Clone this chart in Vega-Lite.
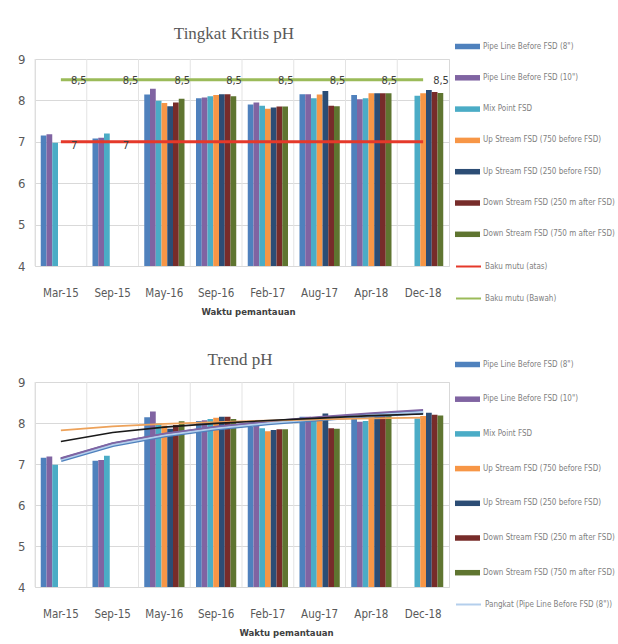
{
  "$schema": "https://vega.github.io/schema/vega-lite/v6.json",
  "background": "white",
  "padding": {"left": 17, "top": 24, "right": 0, "bottom": 0},
  "config": {
    "view": {"stroke": "#d9d9d9"},
    "axis": {"domain": false, "ticks": false, "labelFont": "DejaVu Sans Condensed, Liberation Sans", "labelColor": "#595959", "titleFont": "DejaVu Sans Condensed, Liberation Sans", "titleColor": "#404040", "gridColor": "#d9d9d9"},
    "concat": {"spacing": 33}
  },
  "datasets": {
    "dates": [{"d": "Mar-15"}, {"d": "Sep-15"}, {"d": "May-16"}, {"d": "Sep-16"}, {"d": "Feb-17"}, {"d": "Aug-17"}, {"d": "Apr-18"}, {"d": "Dec-18"}],
    "bars": [
      {"d": "Mar-15", "s": "Pipe Line Before FSD (8\")", "v": 7.15},
      {"d": "Mar-15", "s": "Pipe Line Before FSD (10\")", "v": 7.18},
      {"d": "Mar-15", "s": "Mix Point FSD", "v": 6.98},
      {"d": "Sep-15", "s": "Pipe Line Before FSD (8\")", "v": 7.08},
      {"d": "Sep-15", "s": "Pipe Line Before FSD (10\")", "v": 7.1},
      {"d": "Sep-15", "s": "Mix Point FSD", "v": 7.2},
      {"d": "May-16", "s": "Pipe Line Before FSD (8\")", "v": 8.14},
      {"d": "May-16", "s": "Pipe Line Before FSD (10\")", "v": 8.28},
      {"d": "May-16", "s": "Mix Point FSD", "v": 7.99},
      {"d": "May-16", "s": "Up Stream FSD (750 before FSD)", "v": 7.94},
      {"d": "May-16", "s": "Up Stream FSD (250 before FSD)", "v": 7.86},
      {"d": "May-16", "s": "Down Stream FSD (250 m after FSD)", "v": 7.95},
      {"d": "May-16", "s": "Down Stream FSD (750 m after FSD)", "v": 8.04},
      {"d": "Sep-16", "s": "Pipe Line Before FSD (8\")", "v": 8.05},
      {"d": "Sep-16", "s": "Pipe Line Before FSD (10\")", "v": 8.07},
      {"d": "Sep-16", "s": "Mix Point FSD", "v": 8.1},
      {"d": "Sep-16", "s": "Up Stream FSD (750 before FSD)", "v": 8.13},
      {"d": "Sep-16", "s": "Up Stream FSD (250 before FSD)", "v": 8.15},
      {"d": "Sep-16", "s": "Down Stream FSD (250 m after FSD)", "v": 8.15},
      {"d": "Sep-16", "s": "Down Stream FSD (750 m after FSD)", "v": 8.1},
      {"d": "Feb-17", "s": "Pipe Line Before FSD (8\")", "v": 7.9},
      {"d": "Feb-17", "s": "Pipe Line Before FSD (10\")", "v": 7.95},
      {"d": "Feb-17", "s": "Mix Point FSD", "v": 7.87},
      {"d": "Feb-17", "s": "Up Stream FSD (750 before FSD)", "v": 7.8},
      {"d": "Feb-17", "s": "Up Stream FSD (250 before FSD)", "v": 7.83},
      {"d": "Feb-17", "s": "Down Stream FSD (250 m after FSD)", "v": 7.85},
      {"d": "Feb-17", "s": "Down Stream FSD (750 m after FSD)", "v": 7.85},
      {"d": "Aug-17", "s": "Pipe Line Before FSD (8\")", "v": 8.15},
      {"d": "Aug-17", "s": "Pipe Line Before FSD (10\")", "v": 8.15},
      {"d": "Aug-17", "s": "Mix Point FSD", "v": 8.05},
      {"d": "Aug-17", "s": "Up Stream FSD (750 before FSD)", "v": 8.14},
      {"d": "Aug-17", "s": "Up Stream FSD (250 before FSD)", "v": 8.23},
      {"d": "Aug-17", "s": "Down Stream FSD (250 m after FSD)", "v": 7.87},
      {"d": "Aug-17", "s": "Down Stream FSD (750 m after FSD)", "v": 7.86},
      {"d": "Apr-18", "s": "Pipe Line Before FSD (8\")", "v": 8.13},
      {"d": "Apr-18", "s": "Pipe Line Before FSD (10\")", "v": 8.03},
      {"d": "Apr-18", "s": "Mix Point FSD", "v": 8.05},
      {"d": "Apr-18", "s": "Up Stream FSD (750 before FSD)", "v": 8.17},
      {"d": "Apr-18", "s": "Up Stream FSD (250 before FSD)", "v": 8.17},
      {"d": "Apr-18", "s": "Down Stream FSD (250 m after FSD)", "v": 8.17},
      {"d": "Apr-18", "s": "Down Stream FSD (750 m after FSD)", "v": 8.17},
      {"d": "Dec-18", "s": "Mix Point FSD", "v": 8.11},
      {"d": "Dec-18", "s": "Up Stream FSD (750 before FSD)", "v": 8.17},
      {"d": "Dec-18", "s": "Up Stream FSD (250 before FSD)", "v": 8.25},
      {"d": "Dec-18", "s": "Down Stream FSD (250 m after FSD)", "v": 8.2},
      {"d": "Dec-18", "s": "Down Stream FSD (750 m after FSD)", "v": 8.18}
    ],
    "baku": [
      {"d": "Mar-15", "s": "Baku mutu (atas)", "v": 7, "lab": "7"},
      {"d": "Sep-15", "s": "Baku mutu (atas)", "v": 7, "lab": "7"},
      {"d": "May-16", "s": "Baku mutu (atas)", "v": 7, "lab": ""},
      {"d": "Sep-16", "s": "Baku mutu (atas)", "v": 7, "lab": ""},
      {"d": "Feb-17", "s": "Baku mutu (atas)", "v": 7, "lab": ""},
      {"d": "Aug-17", "s": "Baku mutu (atas)", "v": 7, "lab": ""},
      {"d": "Apr-18", "s": "Baku mutu (atas)", "v": 7, "lab": ""},
      {"d": "Dec-18", "s": "Baku mutu (atas)", "v": 7, "lab": ""},
      {"d": "Mar-15", "s": "Baku mutu (Bawah)", "v": 8.5, "lab": "8,5"},
      {"d": "Sep-15", "s": "Baku mutu (Bawah)", "v": 8.5, "lab": "8,5"},
      {"d": "May-16", "s": "Baku mutu (Bawah)", "v": 8.5, "lab": "8,5"},
      {"d": "Sep-16", "s": "Baku mutu (Bawah)", "v": 8.5, "lab": "8,5"},
      {"d": "Feb-17", "s": "Baku mutu (Bawah)", "v": 8.5, "lab": "8,5"},
      {"d": "Aug-17", "s": "Baku mutu (Bawah)", "v": 8.5, "lab": "8,5"},
      {"d": "Apr-18", "s": "Baku mutu (Bawah)", "v": 8.5, "lab": "8,5"},
      {"d": "Dec-18", "s": "Baku mutu (Bawah)", "v": 8.5, "lab": "8,5"}
    ],
    "trend": [
      {"d": "Mar-15", "s": "Pangkat (Pipe Line Before FSD (8\"))", "v": 7.1},
      {"d": "Sep-15", "s": "Pangkat (Pipe Line Before FSD (8\"))", "v": 7.47},
      {"d": "May-16", "s": "Pangkat (Pipe Line Before FSD (8\"))", "v": 7.7},
      {"d": "Sep-16", "s": "Pangkat (Pipe Line Before FSD (8\"))", "v": 7.87},
      {"d": "Feb-17", "s": "Pangkat (Pipe Line Before FSD (8\"))", "v": 8.0},
      {"d": "Aug-17", "s": "Pangkat (Pipe Line Before FSD (8\"))", "v": 8.1},
      {"d": "Apr-18", "s": "Pangkat (Pipe Line Before FSD (8\"))", "v": 8.19},
      {"d": "Dec-18", "s": "Pangkat (Pipe Line Before FSD (8\"))", "v": 8.27},
      {"d": "Mar-15", "s": "Pangkat (Pipe Line Before FSD (10\"))", "v": 7.14},
      {"d": "Sep-15", "s": "Pangkat (Pipe Line Before FSD (10\"))", "v": 7.51},
      {"d": "May-16", "s": "Pangkat (Pipe Line Before FSD (10\"))", "v": 7.74},
      {"d": "Sep-16", "s": "Pangkat (Pipe Line Before FSD (10\"))", "v": 7.91},
      {"d": "Feb-17", "s": "Pangkat (Pipe Line Before FSD (10\"))", "v": 8.04},
      {"d": "Aug-17", "s": "Pangkat (Pipe Line Before FSD (10\"))", "v": 8.15},
      {"d": "Apr-18", "s": "Pangkat (Pipe Line Before FSD (10\"))", "v": 8.24},
      {"d": "Dec-18", "s": "Pangkat (Pipe Line Before FSD (10\"))", "v": 8.32},
      {"d": "Mar-15", "s": "Pangkat (Up Stream FSD (750 before FSD))", "v": 7.82},
      {"d": "Sep-15", "s": "Pangkat (Up Stream FSD (750 before FSD))", "v": 7.92},
      {"d": "May-16", "s": "Pangkat (Up Stream FSD (750 before FSD))", "v": 7.98},
      {"d": "Sep-16", "s": "Pangkat (Up Stream FSD (750 before FSD))", "v": 8.02},
      {"d": "Feb-17", "s": "Pangkat (Up Stream FSD (750 before FSD))", "v": 8.06},
      {"d": "Aug-17", "s": "Pangkat (Up Stream FSD (750 before FSD))", "v": 8.09},
      {"d": "Apr-18", "s": "Pangkat (Up Stream FSD (750 before FSD))", "v": 8.11},
      {"d": "Dec-18", "s": "Pangkat (Up Stream FSD (750 before FSD))", "v": 8.13},
      {"d": "Mar-15", "s": "Pangkat (Up Stream FSD (250 before FSD))", "v": 7.55},
      {"d": "Sep-15", "s": "Pangkat (Up Stream FSD (250 before FSD))", "v": 7.77},
      {"d": "May-16", "s": "Pangkat (Up Stream FSD (250 before FSD))", "v": 7.9},
      {"d": "Sep-16", "s": "Pangkat (Up Stream FSD (250 before FSD))", "v": 7.99},
      {"d": "Feb-17", "s": "Pangkat (Up Stream FSD (250 before FSD))", "v": 8.06},
      {"d": "Aug-17", "s": "Pangkat (Up Stream FSD (250 before FSD))", "v": 8.12},
      {"d": "Apr-18", "s": "Pangkat (Up Stream FSD (250 before FSD))", "v": 8.18},
      {"d": "Dec-18", "s": "Pangkat (Up Stream FSD (250 before FSD))", "v": 8.22}
    ]
  },
  "resolve": {
    "scale": {"fill": "independent", "stroke": "independent", "strokeWidth": "independent"},
    "legend": {"fill": "independent", "stroke": "independent"}
  },
  "vconcat": [
    {
      "title": {"text": "Tingkat Kritis pH", "font": "Liberation Serif", "fontSize": 17, "fontWeight": "normal", "color": "#595959", "offset": -9, "dx": -8, "frame": "group"},
      "width": 414,
      "height": 207,
      "encoding": {
        "x": {"field": "d", "type": "nominal", "sort": ["Mar-15", "Sep-15", "May-16", "Sep-16", "Feb-17", "Aug-17", "Apr-18", "Dec-18"],
          "scale": {"domain": ["Mar-15", "Sep-15", "May-16", "Sep-16", "Feb-17", "Aug-17", "Apr-18", "Dec-18"], "paddingInner": 0, "paddingOuter": 0},
          "axis": {"labelAngle": 0, "labelFontSize": 11.5, "labelPadding": 21, "titleFontSize": 9.5, "titlePadding": 8, "titleX": 213, "grid": false},
          "title": "Waktu pemantauan"},
        "y": {"field": "v", "type": "quantitative", "scale": {"domain": [4, 9], "nice": false, "zero": false},
          "axis": {"values": [4, 5, 6, 7, 8, 9], "title": null, "grid": true, "labelFontSize": 13, "labelPadding": 10}}
      },
      "layer": [
        {
          "data": {"name": "dates"},
          "mark": {"type": "rule", "color": "#e3e3e3", "strokeWidth": 1},
          "encoding": {"x": {"field": "d", "type": "nominal", "bandPosition": 0, "sort": ["Mar-15", "Sep-15", "May-16", "Sep-16", "Feb-17", "Aug-17", "Apr-18", "Dec-18"]}, "y": null}
        },
        {
          "data": {"name": "bars"},
          "mark": {"type": "bar", "clip": true},
          "encoding": {
            "xOffset": {"field": "s", "type": "nominal", "scale": {"domain": ["Pipe Line Before FSD (8\")", "Pipe Line Before FSD (10\")", "Mix Point FSD", "Up Stream FSD (750 before FSD)", "Up Stream FSD (250 before FSD)", "Down Stream FSD (250 m after FSD)", "Down Stream FSD (750 m after FSD)"], "paddingInner": 0, "paddingOuter": 1.3}},
            "fill": {"field": "s", "type": "nominal",
              "scale": {"domain": ["Pipe Line Before FSD (8\")", "Pipe Line Before FSD (10\")", "Mix Point FSD", "Up Stream FSD (750 before FSD)", "Up Stream FSD (250 before FSD)", "Down Stream FSD (250 m after FSD)", "Down Stream FSD (750 m after FSD)"],
                "range": ["#4f81bd", "#8064a2", "#4bacc6", "#f79646", "#2c4d75", "#772c2a", "#5f7530"]},
              "legend": {"title": null, "orient": "none", "legendX": 420, "legendY": -25, "symbolType": "M-1,-0.22H1V0.22H-1Z", "symbolSize": 625, "symbolStrokeWidth": 0, "labelFont": "DejaVu Sans Condensed, Liberation Sans", "labelFontSize": 8, "labelColor": "#7f7f7f", "labelLimit": 300, "rowPadding": 14.3, "labelOffset": 3}}
          }
        },
        {
          "data": {"name": "baku"},
          "mark": {"type": "line", "strokeWidth": 3},
          "encoding": {
            "stroke": {"field": "s", "type": "nominal",
              "scale": {"domain": ["Baku mutu (atas)", "Baku mutu (Bawah)"], "range": ["#e5392a", "#9bbb59"]},
              "legend": {"title": null, "orient": "none", "legendX": 420, "legendY": 194, "symbolType": "stroke", "symbolSize": 625, "symbolStrokeWidth": 2, "labelFont": "DejaVu Sans Condensed, Liberation Sans", "labelFontSize": 8, "labelColor": "#7f7f7f", "labelLimit": 300, "rowPadding": 14, "labelOffset": 3}}
          }
        },
        {
          "data": {"name": "baku"},
          "transform": [{"filter": "datum.s === 'Baku mutu (Bawah)'"}],
          "mark": {"type": "text", "align": "left", "baseline": "middle", "dx": 10, "dy": 1, "font": "DejaVu Sans Condensed, Liberation Sans", "fontSize": 11, "color": "#404040"},
          "encoding": {"text": {"field": "lab"}}
        },
        {
          "data": {"name": "baku"},
          "transform": [{"filter": "datum.s === 'Baku mutu (atas)' && datum.lab !== ''"}],
          "mark": {"type": "text", "align": "left", "baseline": "middle", "dx": 10, "dy": 4, "font": "DejaVu Sans Condensed, Liberation Sans", "fontSize": 11, "color": "#404040"},
          "encoding": {"text": {"field": "lab"}}
        }
      ]
    },
    {
      "title": {"text": "Trend pH", "font": "Liberation Serif", "fontSize": 17, "fontWeight": "normal", "color": "#595959", "offset": -17, "dx": -2, "frame": "group"},
      "width": 414,
      "height": 205,
      "encoding": {
        "x": {"field": "d", "type": "nominal", "sort": ["Mar-15", "Sep-15", "May-16", "Sep-16", "Feb-17", "Aug-17", "Apr-18", "Dec-18"],
          "scale": {"domain": ["Mar-15", "Sep-15", "May-16", "Sep-16", "Feb-17", "Aug-17", "Apr-18", "Dec-18"], "paddingInner": 0, "paddingOuter": 0},
          "axis": {"labelAngle": 0, "labelFontSize": 11.5, "labelPadding": 21, "titleFontSize": 9.5, "titlePadding": 8, "titleX": 251, "grid": false},
          "title": "Waktu pemantauan"},
        "y": {"field": "v", "type": "quantitative", "scale": {"domain": [4, 9], "nice": false, "zero": false},
          "axis": {"values": [4, 5, 6, 7, 8, 9], "title": null, "grid": true, "labelFontSize": 13, "labelPadding": 10}}
      },
      "layer": [
        {
          "data": {"name": "dates"},
          "mark": {"type": "rule", "color": "#e3e3e3", "strokeWidth": 1},
          "encoding": {"x": {"field": "d", "type": "nominal", "bandPosition": 0, "sort": ["Mar-15", "Sep-15", "May-16", "Sep-16", "Feb-17", "Aug-17", "Apr-18", "Dec-18"]}, "y": null}
        },
        {
          "data": {"name": "bars"},
          "mark": {"type": "bar", "clip": true},
          "encoding": {
            "xOffset": {"field": "s", "type": "nominal", "scale": {"domain": ["Pipe Line Before FSD (8\")", "Pipe Line Before FSD (10\")", "Mix Point FSD", "Up Stream FSD (750 before FSD)", "Up Stream FSD (250 before FSD)", "Down Stream FSD (250 m after FSD)", "Down Stream FSD (750 m after FSD)"], "paddingInner": 0, "paddingOuter": 1.3}},
            "fill": {"field": "s", "type": "nominal",
              "scale": {"domain": ["Pipe Line Before FSD (8\")", "Pipe Line Before FSD (10\")", "Mix Point FSD", "Up Stream FSD (750 before FSD)", "Up Stream FSD (250 before FSD)", "Down Stream FSD (250 m after FSD)", "Down Stream FSD (750 m after FSD)"],
                "range": ["#4f81bd", "#8064a2", "#4bacc6", "#f79646", "#2c4d75", "#772c2a", "#5f7530"]},
              "legend": {"title": null, "orient": "none", "legendX": 420, "legendY": -30, "symbolType": "M-1,-0.22H1V0.22H-1Z", "symbolSize": 625, "symbolStrokeWidth": 0, "labelFont": "DejaVu Sans Condensed, Liberation Sans", "labelFontSize": 8, "labelColor": "#7f7f7f", "labelLimit": 300, "rowPadding": 17.7, "labelOffset": 3}}
          }
        },
        {
          "data": {"name": "trend"},
          "transform": [{"filter": "datum.s === 'Pangkat (Pipe Line Before FSD (8\"))'"}],
          "mark": {"type": "line", "strokeWidth": 4.5, "color": "#4f81bd"},
          "encoding": {}
        },
        {
          "data": {"name": "trend"},
          "mark": {"type": "line"},
          "encoding": {
            "stroke": {"field": "s", "type": "nominal",
              "scale": {"domain": ["Pangkat (Pipe Line Before FSD (8\"))", "Pangkat (Pipe Line Before FSD (10\"))", "Pangkat (Up Stream FSD (750 before FSD))", "Pangkat (Up Stream FSD (250 before FSD))"], "range": ["#b4cfec", "#8064a2", "#eda25a", "#1a1a1a"]},
              "legend": {"title": null, "values": ["Pangkat (Pipe Line Before FSD (8\"))"], "orient": "none", "legendX": 420, "legendY": 209, "symbolType": "stroke", "symbolSize": 625, "symbolStrokeWidth": 1.5, "labelFont": "DejaVu Sans Condensed, Liberation Sans", "labelFontSize": 8, "labelColor": "#7f7f7f", "labelLimit": 300, "labelOffset": 3}},
            "strokeWidth": {"field": "s", "type": "nominal",
              "scale": {"domain": ["Pangkat (Pipe Line Before FSD (8\"))", "Pangkat (Pipe Line Before FSD (10\"))", "Pangkat (Up Stream FSD (750 before FSD))", "Pangkat (Up Stream FSD (250 before FSD))"], "range": [2, 1.6, 3, 2]},
              "legend": null}
          }
        }
      ]
    }
  ]
}
